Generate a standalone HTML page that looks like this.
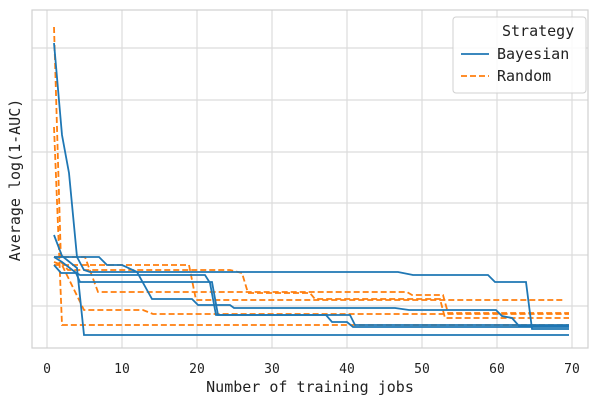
<!DOCTYPE html>
<html><head><style>body{margin:0;background:#fff}</style></head><body>
<svg width="600" height="404" xmlns="http://www.w3.org/2000/svg" font-family="DejaVu Sans Mono, Liberation Mono, monospace" font-size="13">
<rect width="600" height="404" fill="#fff"/>
<g stroke="#dcdcdc" stroke-width="1.2">
<line x1="47" y1="10" x2="47" y2="348"/><line x1="122" y1="10" x2="122" y2="348"/><line x1="197" y1="10" x2="197" y2="348"/><line x1="272" y1="10" x2="272" y2="348"/><line x1="347" y1="10" x2="347" y2="348"/><line x1="422" y1="10" x2="422" y2="348"/><line x1="497" y1="10" x2="497" y2="348"/><line x1="572" y1="10" x2="572" y2="348"/>
<line x1="32" y1="48" x2="588" y2="48"/><line x1="32" y1="100" x2="588" y2="100"/><line x1="32" y1="152" x2="588" y2="152"/><line x1="32" y1="203" x2="588" y2="203"/><line x1="32" y1="255" x2="588" y2="255"/><line x1="32" y1="306" x2="588" y2="306"/>
</g>
<rect x="32" y="10" width="556" height="338" fill="none" stroke="#d0d0d0" stroke-width="1.2"/>
<g fill="none" stroke="#ff7f0e" stroke-width="1.8" stroke-dasharray="6,3">
<polyline points="54,265 189,265 196,300 565,300"/>
<polyline points="54,257 85,257 98,292 407,292 412,295 443,295 448,313 569,313"/>
<polyline points="54,27 61,262 68,270 230,270 242,273 248,293 310,293 315,299 440,299 445,318 569,318"/>
<polyline points="54,127 62,325 569,325"/>
<polyline points="54,262 62,265 84,310 143,310 153,314 569,314"/>
</g>
<g fill="none" stroke="#1f77b4" stroke-width="1.8">
<polyline points="54,43 62,135 69,173 77,257 84,270 90,272 398,272 413,275 488,275 495,282 526,282 532,329 569,329"/>
<polyline points="54,235 62,256 77,268 84,335 569,335"/>
<polyline points="54,257 99,257 107,265 122,265 137,272 152,299 192,299 198,305 230,305 234,308 395,308 409,310 496,310 502,316 512,318 519,326 569,326"/>
<polyline points="54,265 61,273 76,273 80,282 212,282 218,315 326,315 332,322 347,322 353,327 569,327"/>
<polyline points="54,257 62,262 75,272 80,275 205,275 210,283 216,315 350,315 355,325 569,325"/>
</g>
<g fill="#222" text-anchor="middle">
<text x="47" y="373">0</text><text x="122" y="373">10</text><text x="197" y="373">20</text><text x="272" y="373">30</text><text x="347" y="373">40</text><text x="422" y="373">50</text><text x="497" y="373">60</text><text x="572" y="373">70</text>
<text x="310" y="392" font-size="15">Number of training jobs</text>
<text transform="translate(20,180) rotate(-90)" font-size="15">Average log(1-AUC)</text>
</g>
<rect x="453" y="17" width="133" height="76" rx="3" fill="#fff" fill-opacity="0.85" stroke="#d0d0d0"/>
<text x="502" y="36" fill="#222" font-size="15">Strategy</text>
<line x1="461" y1="54" x2="489" y2="54" stroke="#1f77b4" stroke-width="1.8"/>
<text x="497" y="59" fill="#222" font-size="15">Bayesian</text>
<line x1="461" y1="76" x2="489" y2="76" stroke="#ff7f0e" stroke-width="1.8" stroke-dasharray="6,3"/>
<text x="497" y="81" fill="#222" font-size="15">Random</text>
</svg>
</body></html>
